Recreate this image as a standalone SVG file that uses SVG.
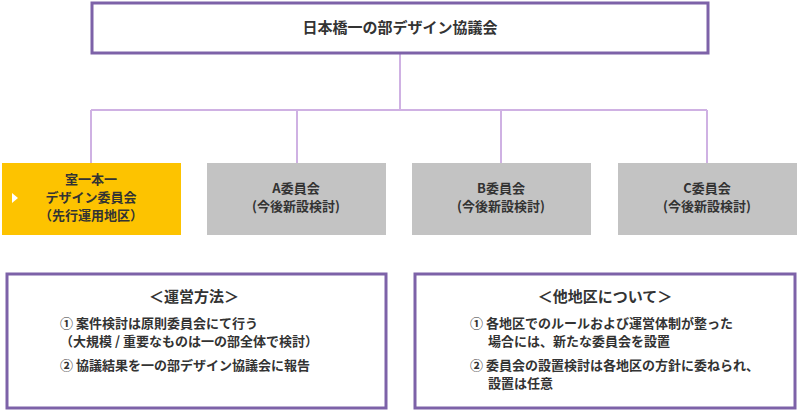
<svg xmlns="http://www.w3.org/2000/svg" width="800" height="410" viewBox="0 0 800 410">
<style>
text{font-family:"Noto Sans CJK JP",sans-serif;font-weight:bold;fill:#333;text-anchor:middle}
.t{font-size:15px}.s{font-size:13px}.l{text-anchor:start;font-size:13px}
.pb{fill:#fff;stroke:#7d62a8;stroke-width:3}
.g{fill:#c3c3c3}
.c{fill:none;stroke:#cfb1e3;stroke-width:2}
</style>
<rect width="800" height="410" fill="#fff"/>
<g id="connectors" class="c">
<path d="M400 54V110M91 110H707M91 110V163M297 110V163M501 110V163M707 110V163"/>
</g>
<g id="top"><rect class="pb" x="92" y="3" width="616" height="50"/><text class="t" x="400" y="33">日本橋一の部デザイン協議会</text></g>
<g id="n1"><rect x="2" y="163" width="179" height="72" fill="#fdc300"/><path d="M12 193l6 5-6 5z" fill="#fff"/>
<text class="s" x="91" y="184">室一本一</text><text class="s" x="91" y="202">デザイン委員会</text><text class="s" x="91" y="220">（先行運用地区）</text></g>
<g id="n2"><rect class="g" x="207" y="163" width="179" height="72"/><text class="s" x="296" y="193">A委員会</text><text class="s" x="296" y="211">(今後新設検討)</text></g>
<g id="n3"><rect class="g" x="412" y="163" width="179" height="72"/><text class="s" x="501" y="193">B委員会</text><text class="s" x="501" y="211">(今後新設検討)</text></g>
<g id="n4"><rect class="g" x="618" y="163" width="179" height="72"/><text class="s" x="707" y="193">C委員会</text><text class="s" x="707" y="211">(今後新設検討)</text></g>
<g id="ops"><rect class="pb" x="7" y="274" width="379" height="134"/>
<text class="t" x="194" y="302">＜運営方法＞</text>
<text class="l" x="60" y="328">① 案件検討は原則委員会にて行う</text>
<text class="l" x="60" y="346">  （大規模 / 重要なものは一の部全体で検討）</text>
<text class="l" x="60" y="370">② 協議結果を一の部デザイン協議会に報告</text></g>
<g id="other"><rect class="pb" x="415" y="274" width="380" height="134"/>
<text class="t" x="605" y="302">＜他地区について＞</text>
<text class="l" x="470" y="328">① 各地区でのルールおよび運営体制が整った</text>
<text class="l" x="488" y="346">場合には、新たな委員会を設置</text>
<text class="l" x="470" y="370">② 委員会の設置検討は各地区の方針に委ねられ、</text>
<text class="l" x="488" y="388">設置は任意</text></g>
</svg>
